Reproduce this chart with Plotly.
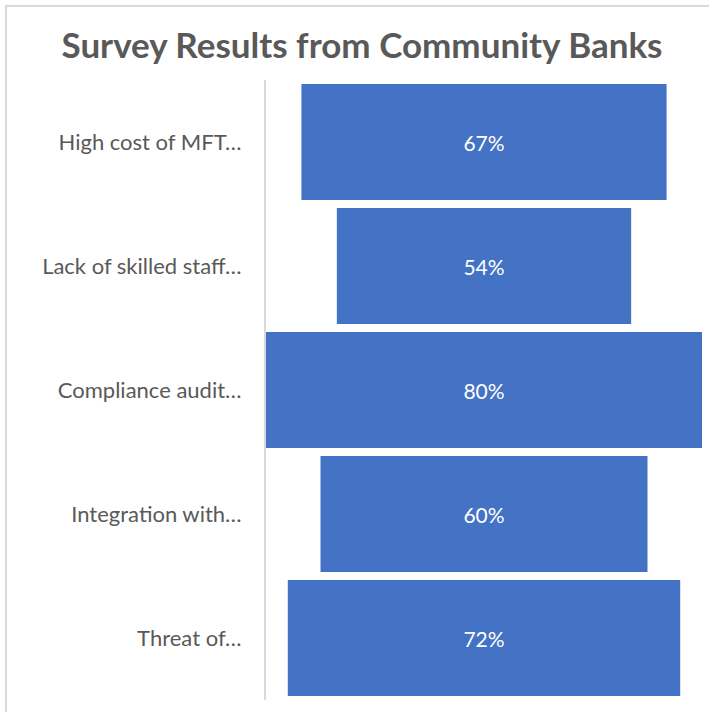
import plotly.graph_objects as go

categories = ["High cost of MFT…", "Lack of skilled staff…", "Compliance audit…",
              "Integration with…", "Threat of…"]
values = [0.67, 0.54, 0.80, 0.60, 0.72]

W, H = 709, 712
L, R, T, B = 266, 7, 80, 12
pw, ph = W - L - R, H - T - B

fig = go.Figure(go.Funnel(
    y=categories, x=values,
    texttemplate="%{x:.0%}", textposition="inside", insidetextanchor="middle",
    textfont=dict(color="white", size=21, family="Lato"),
    marker=dict(color="#4472C4"),
    connector=dict(visible=False),
    hoverinfo="skip",
))

fig.update_layout(
    width=W, height=H,
    margin=dict(l=L, r=R, t=T, b=B),
    paper_bgcolor="white", plot_bgcolor="white",
    funnelgap=0.065,
    showlegend=False,
    title=dict(text="<b>Survey Results from Community Banks</b>", x=362 / W, xanchor="center",
               y=1 - 46 / H, yanchor="middle",
               font=dict(family="Lato", size=35, color="#595959")),
    xaxis=dict(range=[-0.4, 0.4], visible=False, fixedrange=True),
    yaxis=dict(autorange="reversed", showline=True, linecolor="#d9d9d9", linewidth=2,
               ticks="", ticklabelstandoff=18, showgrid=False,
               tickfont=dict(family="Lato", size=22, color="#595959")),
    shapes=[dict(type="rect", xref="paper", yref="paper",
                 x0=(6 - L) / pw, x1=2, y0=-1, y1=(H - B - 6) / ph,
                 line=dict(color="#d9d9d9", width=2), layer="below")],
)

fig.write_html("out.html")
